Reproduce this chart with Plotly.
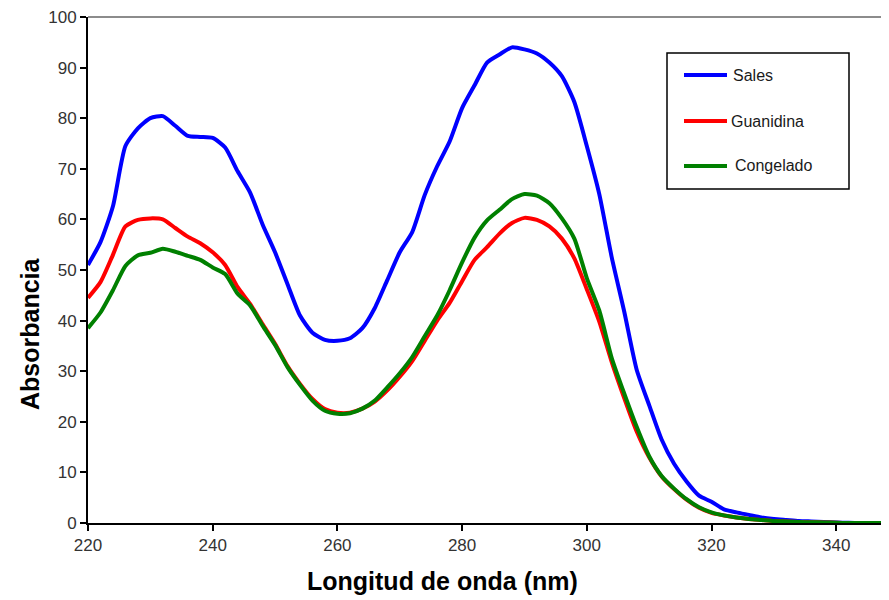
import plotly.graph_objects as go

wavelength = list(range(220, 350, 2))

sales = [51.0, 55.5, 62.6, 74.5, 78.0, 80.0, 80.4, 78.5, 76.5, 76.3,
         76.1, 74.2, 69.5, 65.3, 59.0, 53.5, 47.2, 41.0, 37.6, 36.2,
         36.0, 36.5, 38.5, 42.5, 48.0, 53.5, 57.5, 64.8, 70.5, 75.4,
         82.0, 86.5, 91.0, 92.6, 94.0, 93.6, 92.8, 91.0, 88.3, 83.2,
         74.5, 65.0, 52.5, 41.8, 30.3, 23.3, 16.5, 11.7, 8.2, 5.4,
         4.2, 2.7, 2.1, 1.6, 1.1, 0.8, 0.6, 0.4, 0.3, 0.2,
         0.1, 0.05, 0.0, 0.0, 0.0]

guanidina = [44.5, 47.6, 53.0, 58.6, 59.9, 60.2, 60.0, 58.3, 56.6, 55.3,
             53.5, 51.0, 46.6, 43.3, 39.3, 35.4, 31.0, 27.5, 24.5, 22.5,
             21.8, 21.8, 22.6, 24.0, 26.2, 28.9, 32.0, 36.0, 40.0, 43.5,
             47.8, 52.0, 54.5, 57.2, 59.3, 60.3, 59.9, 58.6, 56.2, 52.3,
             46.2, 39.8, 31.8, 24.7, 18.1, 13.0, 9.2, 6.7, 4.6, 3.0,
             2.0, 1.5, 1.1, 0.8, 0.6, 0.4, 0.3, 0.2, 0.15, 0.1,
             0.05, 0.0, 0.0, 0.0, 0.0]

congelado = [38.5, 41.6, 46.0, 50.8, 52.9, 53.4, 54.2, 53.6, 52.8, 52.0,
             50.5, 49.2, 45.3, 43.0, 39.0, 35.2, 30.8, 27.3, 24.2, 22.2,
             21.6, 21.7, 22.6, 24.2, 26.8, 29.6, 32.8, 36.9, 41.0, 46.0,
             51.5, 56.4, 59.8, 61.9, 64.0, 65.0, 64.7, 63.2, 60.2, 56.2,
             48.4, 42.0, 32.6, 25.6, 19.0, 13.2, 9.3, 6.8, 4.7, 3.1,
             2.1, 1.5, 1.1, 0.8, 0.6, 0.4, 0.3, 0.2, 0.15, 0.1,
             0.05, 0.0, 0.0, 0.0, 0.0]

series_names = ["Sales", "Guanidina", "Congelado"]
series_colors = ["#0000FF", "#FF0000", "#008000"]
series_values = [sales, guanidina, congelado]

x_ticks = [220, 240, 260, 280, 300, 320, 340]
y_ticks = [0, 10, 20, 30, 40, 50, 60, 70, 80, 90, 100]

fig = go.Figure()
for name, color, vals in zip(series_names, series_colors, series_values):
    fig.add_trace(go.Scatter(
        x=wavelength, y=vals, mode="lines", name=name,
        line=dict(color=color, width=4, shape="spline", smoothing=0.6),
        showlegend=False,
    ))

# page body has an 8px margin, so the figure is drawn 8px smaller and offset
OFF = 8
W, H = 889 - OFF, 600 - OFF
L, R, T, B = 80, 0, 9, 77
pw = W - L - R
ph = H - T - B


def px_x(p):
    return (p - OFF - L) / pw


def px_y(p):
    return (H - B - (p - OFF)) / ph


shapes = []
annotations = []

# top border (gray)
shapes.append(dict(type="line", xref="paper", yref="paper", x0=0, x1=1, y0=1, y1=1,
                   line=dict(color="#8c8c8c", width=2)))

# custom legend box
shapes.append(dict(type="rect", xref="paper", yref="paper",
                   x0=px_x(667), x1=px_x(849), y0=px_y(189), y1=px_y(53),
                   line=dict(color="black", width=1.5), fillcolor="white", layer="above"))
legend_y = [75, 121, 166]
legend_text_x = [731, 729, 733]
for name, color, ly, tx in zip(series_names, series_colors, legend_y, legend_text_x):
    shapes.append(dict(type="line", xref="paper", yref="paper",
                       x0=px_x(684), x1=px_x(727), y0=px_y(ly), y1=px_y(ly),
                       line=dict(color=color, width=4), layer="above"))
    annotations.append(dict(text=name, xref="paper", yref="paper",
                            x=px_x(tx), y=px_y(ly), xanchor="left", yanchor="middle",
                            showarrow=False,
                            font=dict(family="Liberation Sans, Arial", size=16, color="#1a1a1a")))

# axis titles
annotations.append(dict(text="<b>Longitud de onda (nm)</b>", xref="paper", yref="paper",
                        x=px_x(442), y=px_y(581), xanchor="center", yanchor="middle",
                        showarrow=False,
                        font=dict(family="Liberation Sans, Arial", size=25, color="black")))
annotations.append(dict(text="<b>Absorbancia</b>", xref="paper", yref="paper",
                        x=px_x(30), y=px_y(334), xanchor="center", yanchor="middle",
                        textangle=-90, showarrow=False,
                        font=dict(family="Liberation Sans, Arial", size=25, color="black")))

fig.update_layout(
    width=W, height=H,
    margin=dict(l=L, r=R, t=T, b=B, pad=0),
    paper_bgcolor="white", plot_bgcolor="white",
    shapes=shapes, annotations=annotations,
    font=dict(family="Liberation Sans, Arial", size=17, color="#333333"),
    xaxis=dict(range=[220, 220 + pw / 6.235], tickvals=x_ticks, ticks="outside", ticklen=6,
               tickwidth=1.5, tickcolor="black", showline=True, linecolor="black",
               linewidth=2, showgrid=False, zeroline=False, ticklabeloverflow="allow",
               tickfont=dict(size=17, color="#333333")),
    yaxis=dict(range=[0, 100], tickvals=y_ticks, ticks="outside", ticklen=6,
               tickwidth=1.5, tickcolor="black", showline=True, linecolor="black",
               linewidth=2, showgrid=False, zeroline=False, ticklabeloverflow="allow",
               tickfont=dict(size=17, color="#333333")),
)

fig.write_html("out.html")
